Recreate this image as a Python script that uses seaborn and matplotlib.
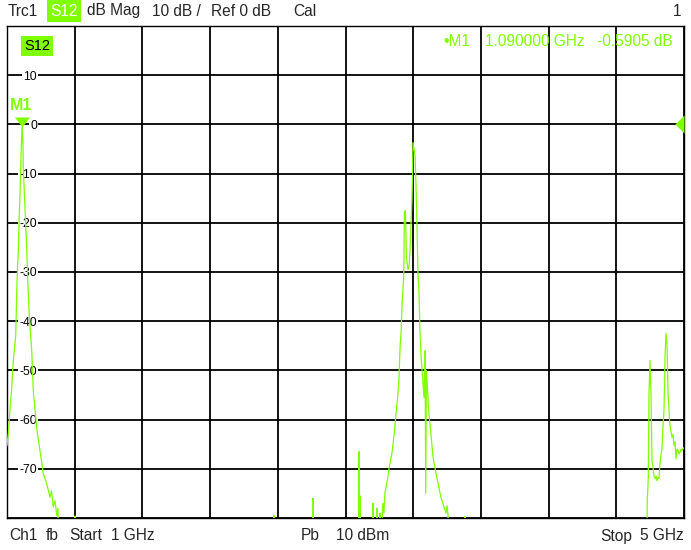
import numpy as np
import pandas as pd
import matplotlib
matplotlib.use("Agg")
import matplotlib.pyplot as plt
import seaborn as sns

# ---------------- data ----------------
# trace S12 (GHz, dB); values below -80 dB are off-screen (-95)
peak1_f = [1.000, 1.0077, 1.0177, 1.0278, 1.0372, 1.0514, 1.059, 1.0668, 1.071, 1.077,
           1.081, 1.086, 1.090, 1.0945, 1.0963, 1.1016, 1.1063, 1.111, 1.1164, 1.124,
           1.132, 1.146, 1.155, 1.175, 1.195, 1.2145, 1.2345, 1.254, 1.263, 1.2735,
           1.284, 1.294, 1.301, 1.307, 1.399, 1.402, 1.405]
peak1_db = [-65.3, -62.8, -58.0, -53.5, -48.0, -43.0, -32.0, -25.6, -20.0, -14.0,
            -8.7, -3.0, -0.59, -4.0, -9.0, -13.0, -17.0, -21.0, -25.0, -33.0,
            -39.0, -46.0, -54.0, -61.6, -66.3, -71.0, -73.0, -75.8, -74.5, -77.8,
            -76.5, -79.5, -78.0, -95.0, -95.0, -79.6, -95.0]

noise_f = [2.574, 2.577, 2.580, 2.805, 2.808, 2.811, 3.077, 3.080, 3.083, 3.086, 3.089,
           3.159, 3.162, 3.165, 3.183, 3.186, 3.189, 3.201, 3.204, 3.207]
noise_db = [-95.0, -79.5, -95.0, -95.0, -76.0, -95.0, -95.0, -66.5, -95.0, -75.5, -95.0,
            -95.0, -77.0, -95.0, -95.0, -78.0, -95.0, -95.0, -79.0, -95.0]

peak2_f = [3.212, 3.218, 3.221, 3.227, 3.233, 3.245, 3.257, 3.275, 3.288, 3.298,
           3.308, 3.316, 3.322, 3.328, 3.335, 3.344, 3.348, 3.354, 3.360, 3.369,
           3.375, 3.381, 3.387, 3.393, 3.399, 3.405, 3.411, 3.416, 3.422, 3.428,
           3.434, 3.440, 3.446, 3.458, 3.464, 3.470, 3.474, 3.478, 3.493, 3.505,
           3.517, 3.535, 3.546, 3.564, 3.582, 3.594, 3.600, 3.606, 3.612,
           3.703, 3.706, 3.709]
peak2_db = [-95.0, -78.5, -77.0, -79.0, -74.8, -72.8, -70.0, -66.7, -62.8, -59.0,
            -55.5, -51.7, -45.6, -42.5, -36.0, -31.0, -18.0, -17.5, -27.0, -29.5,
            -29.0, -26.0, -20.0, -15.0, -3.7, -5.0, -6.3, -11.8, -20.0, -30.0,
            -34.0, -42.0, -47.0, -52.7, -55.5, -46.0, -75.0, -50.0, -58.8, -63.0,
            -67.6, -71.0, -72.8, -75.8, -77.8, -79.0, -77.5, -79.5, -95.0,
            -95.0, -79.7, -95.0]

peak3_f = [4.777, 4.783, 4.789, 4.793, 4.799, 4.805, 4.811, 4.817, 4.823, 4.829,
           4.835, 4.840, 4.846, 4.852, 4.858, 4.864, 4.870, 4.876, 4.882, 4.888,
           4.894, 4.900, 4.906, 4.911, 4.917, 4.929, 4.935, 4.941, 4.947, 4.953,
           4.959, 4.965, 4.971, 4.976, 4.982, 4.988, 5.000]
peak3_db = [-95.0, -76.5, -71.8, -55.0, -48.0, -55.0, -68.3, -69.7, -71.5, -72.0,
            -71.5, -72.4, -71.8, -72.0, -69.0, -67.0, -65.9, -61.2, -58.0, -47.0,
            -42.5, -45.0, -55.0, -57.7, -61.2, -63.6, -63.0, -65.3, -64.5, -68.0,
            -66.0, -66.3, -67.0, -66.7, -66.0, -66.2, -65.7]

marker_f = 1.090
marker_db = -0.5905
ref_level = 0.0

x_grid = [1.0, 1.4, 1.8, 2.2, 2.6, 3.0, 3.4, 3.8, 4.2, 4.6, 5.0]
y_grid = [-80, -70, -60, -50, -40, -30, -20, -10, 0, 10, 20]
y_labels = ["", "-70", "-60", "-50", "-40", "-30", "-20", "-10", "0", "10", ""]

GREEN = "#80ff00"

df = pd.DataFrame({
    "freq": peak1_f + noise_f + peak2_f + peak3_f,
    "db": peak1_db + noise_db + peak2_db + peak3_db,
})

# ---------------- style ----------------
sns.set_style("white")
plt.rcParams["font.family"] = ["Liberation Sans", "DejaVu Sans"]
plt.rcParams["axes.unicode_minus"] = False

W, H = 691, 550
fig = plt.figure(figsize=(W / 100, H / 100), dpi=100)
ax = fig.add_axes([7 / W, 32 / H, 677 / W, 492 / H])

sns.lineplot(data=df, x="freq", y="db", ax=ax, color=GREEN, linewidth=0.9,
             estimator=None, sort=False, zorder=3)

ax.set_xlim(1, 5)
ax.set_ylim(-80, 20)
ax.set_xticks(x_grid)
ax.set_xticklabels([])
ax.set_yticks(y_grid)
ax.set_yticklabels(y_labels)
ax.set_xlabel("")
ax.set_ylabel("")
ax.grid(True, color="black", linewidth=1.3)
for s in ax.spines.values():
    s.set_color("black")
    s.set_linewidth(1.0)
ax.tick_params(axis="x", length=0)
ax.tick_params(axis="y", length=0, pad=-21.6, labelsize=8.8, labelcolor="black")
for lbl in ax.get_yticklabels():
    lbl.set_bbox(dict(facecolor="white", edgecolor="none", pad=1))

# marker M1
ax.plot([marker_f], [marker_db], marker=[(-0.75, 1), (0.75, 1), (0, 0)],
        markersize=14.4, color=GREEN, markeredgewidth=0, linestyle="none",
        zorder=5, clip_on=False)
ax.annotate("M1", xy=(marker_f, marker_db), xytext=(-0.5, 12.5),
            textcoords="offset points", ha="center", va="baseline",
            fontsize=11.5, fontweight="bold", color=GREEN, zorder=6)

# reference level triangle at right edge
ax.plot([5.0], [ref_level], marker=[(-1, 0), (0, 1), (0, -1)], markersize=13,
        color=GREEN, markeredgewidth=0, linestyle="none", zorder=5, clip_on=False)

# in-plot trace label
ax.text((24 - 7) / 677, 1 - (46 - 26) / 492, "S12",
        transform=ax.transAxes, fontsize=10.5, color="black", va="center",
        ha="left", bbox=dict(facecolor=GREEN, edgecolor="none", pad=2), zorder=6)


def ftxt(x, y, s, **kw):
    kw.setdefault("fontsize", 11.2)
    kw.setdefault("va", "center")
    kw.setdefault("ha", "left")
    fig.text(x / W, 1 - y / H, s, **kw)


# header
ftxt(8, 11, "Trc1")
ftxt(50, 11, "S12", color="white",
     bbox=dict(facecolor=GREEN, edgecolor="none", pad=2.5))
ftxt(87, 11, "dB Mag")
ftxt(152, 11, "10 dB /")
ftxt(211, 11, "Ref 0 dB")
ftxt(293, 11, "Cal")
ftxt(681, 11, "1", ha="right")

# marker readout
ftxt(443, 42, "\u2022M1", color=GREEN)
ftxt(485, 42, "1.090000 GHz", color=GREEN)
ftxt(597, 42, "-0.5905 dB", color=GREEN)

# footer
ftxt(9, 536, "Ch1")
ftxt(46, 536, "fb")
ftxt(69, 536, "Start")
ftxt(111, 536, "1 GHz")
ftxt(301, 536, "Pb")
ftxt(336, 536, "10 dBm")
ftxt(600, 536, "Stop")
ftxt(684, 536, "5 GHz", ha="right")

fig.savefig("out.png", dpi=100, facecolor="white")
